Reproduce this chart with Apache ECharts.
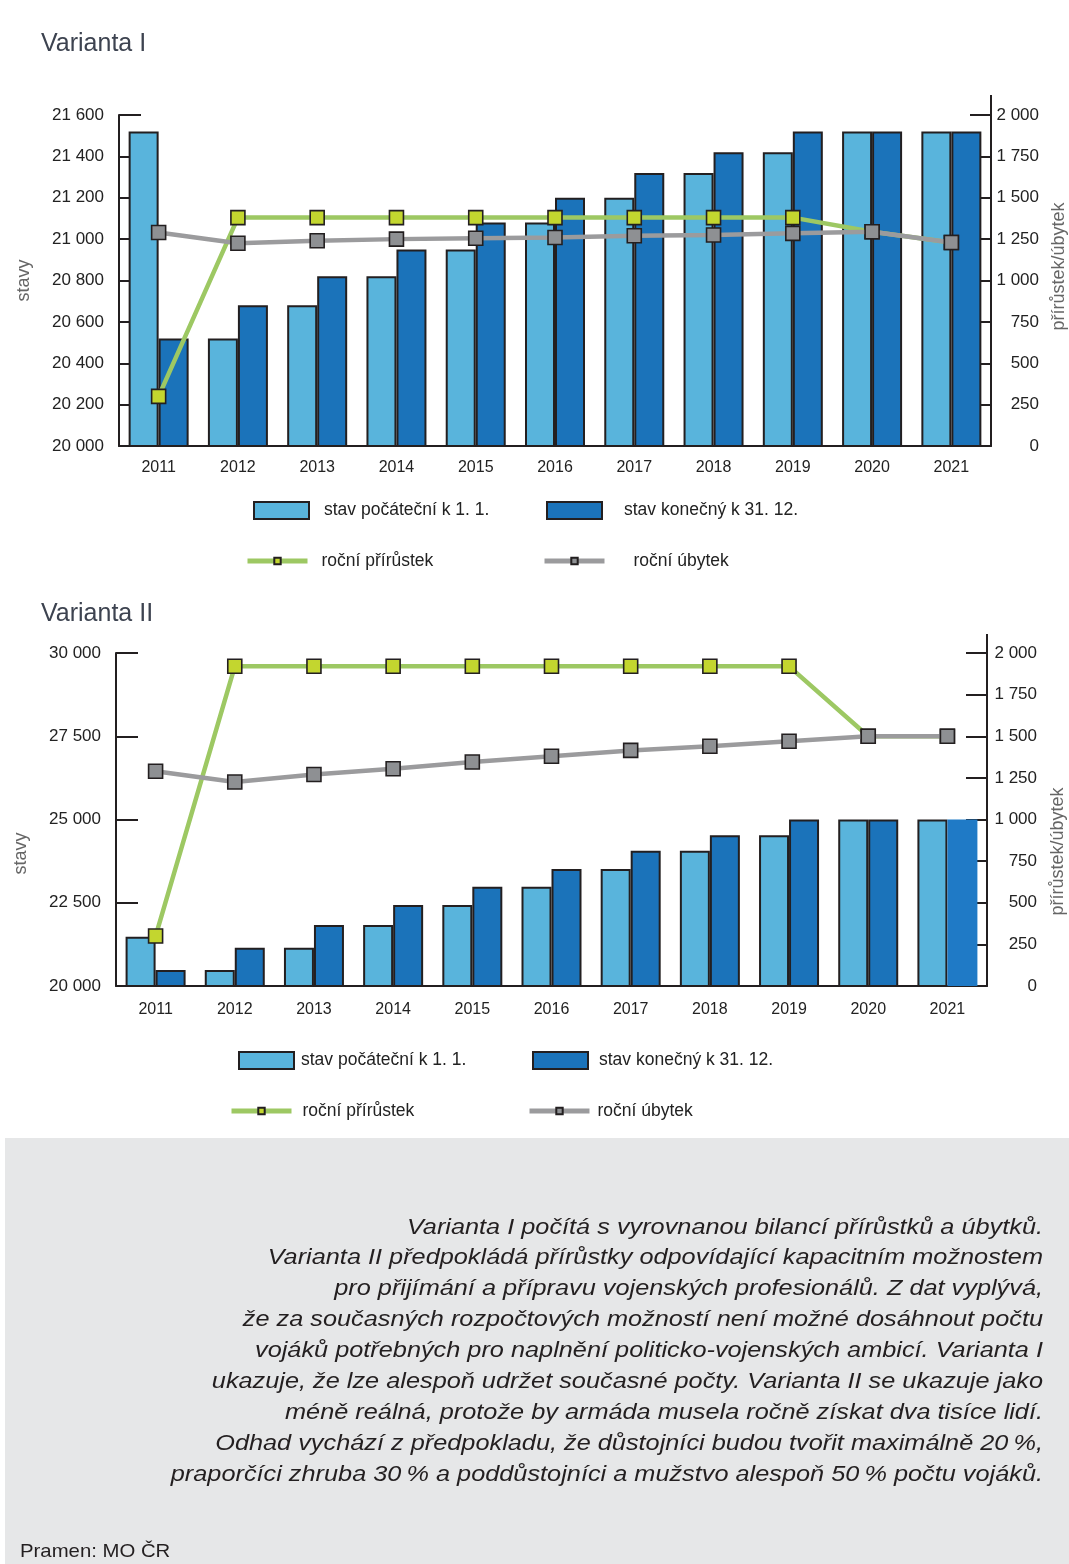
<!DOCTYPE html>
<html lang="cs">
<head>
<meta charset="utf-8">
<title>Varianta I a II – stavy vojáků</title>
<script src="https://cdn.jsdelivr.net/npm/echarts@6/dist/echarts.min.js"></script>
<style>
  html, body { margin: 0; padding: 0; background: #fff; overflow: hidden; }
  #main { width: 1069px; height: 1564px; }
</style>
</head>
<body>
<div id="main"></div>
<script>
// Categories (years)
const years = ['2011', '2012', '2013', '2014', '2015', '2016', '2017', '2018', '2019', '2020', '2021'];

// Varianta I – stavy (left axis) and roční přírůstek / úbytek (right axis)
const v1Start = [21520, 20520, 20680, 20820, 20950, 21080, 21200, 21320, 21420, 21520, 21520];
const v1End   = [20520, 20680, 20820, 20950, 21080, 21200, 21320, 21420, 21520, 21520, 21520];
const v1Gain  = [300, 1380, 1380, 1380, 1380, 1380, 1380, 1380, 1380, 1295, 1230];
const v1Loss  = [1290, 1225, 1240, 1250, 1255, 1260, 1270, 1275, 1285, 1295, 1230];

// Varianta II
const v2Start = [21480, 20480, 21150, 21830, 22430, 22980, 23510, 24060, 24530, 25000, 25000];
const v2End   = [20480, 21150, 21830, 22430, 22980, 23510, 24060, 24530, 25000, 25000, 25000];
const v2Gain  = [300, 1920, 1920, 1920, 1920, 1920, 1920, 1920, 1920, 1500, 1500];
const v2Loss  = [1290, 1225, 1270, 1305, 1345, 1380, 1415, 1440, 1470, 1500, 1500];

// Axis ranges
const v1Left  = { min: 20000, max: 21600, interval: 200 };
const v2Left  = { min: 20000, max: 30000, interval: 2500 };
const rightAx = { min: 0, max: 2000, interval: 250 };

// Series / legend names
const nStart = 'stav počáteční k 1. 1.';
const nEnd   = 'stav konečný k 31. 12.';
const nGain  = 'roční přírůstek';
const nLoss  = 'roční úbytek';

const noteLines = [
  'Varianta I počítá s vyrovnanou bilancí přírůstků a úbytků.',
  'Varianta II předpokládá přírůstky odpovídající kapacitním možnostem',
  'pro přijímání a přípravu vojenských profesionálů. Z dat vyplývá,',
  'že za současných rozpočtových možností není možné dosáhnout počtu',
  'vojáků potřebných pro naplnění politicko-vojenských ambicí. Varianta I',
  'ukazuje, že lze alespoň udržet současné počty. Varianta II se ukazuje jako',
  'méně reálná, protože by armáda musela ročně získat dva tisíce lidí.',
  'Odhad vychází z předpokladu, že důstojníci budou tvořit maximálně 20\u2009%,',
  'praporčíci zhruba 30\u2009% a poddůstojníci a mužstvo alespoň 50\u2009% počtu vojáků.'
];

const FONT = "'Liberation Sans', Arial, sans-serif";
const INK = '#231f20';
const C_LIGHT = '#59b4dc';
const C_DARK = '#1b73ba';
const C_GREEN = '#9dc863';
const C_GREEN_M = '#c3d62f';
const C_GREY = '#9b9b9d';
const C_GREY_M = '#8e9093';

// thousands separated by a space: 21 600, 2 000
const fmt = v => String(v).replace(/\B(?=(\d{3})+(?!\d))/g, ' ');

function xAxisDef(gridIndex, margin) {
  return {
    type: 'category', gridIndex, data: years, boundaryGap: true,
    axisLine: { lineStyle: { color: INK, width: 2 } },
    axisTick: { inside: true, length: 9, lineStyle: { color: INK, width: 2 } },
    axisLabel: { color: '#222', fontFamily: FONT, fontSize: 16, margin }
  };
}
function leftAxisDef(gridIndex, range, nameGap, namePad) {
  return {
    type: 'value', gridIndex, position: 'left', ...range,
    name: 'stavy', nameLocation: 'middle', nameRotate: 90, nameGap,
    nameTextStyle: { color: '#666', fontFamily: FONT, fontSize: 18, padding: namePad },
    splitLine: { show: false },
    axisLine: { show: true, lineStyle: { color: INK, width: 2 } },
    axisTick: { show: true, inside: true, length: 22, lineStyle: { color: INK, width: 2 } },
    axisLabel: { color: '#222', fontFamily: FONT, fontSize: 17, margin: 15, formatter: fmt }
  };
}
function rightAxisDef(gridIndex, nameGap, namePad, labelMargin) {
  return {
    type: 'value', gridIndex, position: 'right', ...rightAx,
    name: 'přírůstek/úbytek', nameLocation: 'middle', nameRotate: 90, nameGap,
    nameTextStyle: { color: '#666', fontFamily: FONT, fontSize: 18, padding: namePad },
    splitLine: { show: false },
    axisLine: { show: true, lineStyle: { color: INK, width: 2 } },
    axisTick: { show: true, inside: true, length: 21, lineStyle: { color: INK, width: 2 } },
    axisLabel: { color: '#222', fontFamily: FONT, fontSize: 17, margin: labelMargin, align: 'right', formatter: fmt }
  };
}

function barSeries(name, data, color, xi, yi, lastPlain) {
  return {
    name, type: 'bar', xAxisIndex: xi, yAxisIndex: yi, barWidth: 30, barGap: '0%', z: 2,
    itemStyle: { color, borderColor: INK, borderWidth: 2 },
    data: data.map((v, i) => (lastPlain && i === data.length - 1)
      ? { value: v, itemStyle: { borderWidth: 0, color: '#1f7ac6' } } : v)
  };
}
function lineSeries(name, data, color, mark, xi, yi, z) {
  return {
    name, type: 'line', xAxisIndex: xi, yAxisIndex: yi, data, z,
    symbol: 'rect', symbolSize: 14, showAllSymbol: true,
    lineStyle: { color, width: 4.5 },
    itemStyle: { color: mark, borderColor: INK, borderWidth: 1.6 },
    emphasis: { disabled: true }
  };
}

function legendItem(name, left, top, isBar, gap) {
  return {
    data: [name], left, top, padding: 0, orient: 'horizontal', selectedMode: false,
    icon: isBar ? 'rect' : undefined,
    itemWidth: isBar ? 55 : 60, itemHeight: isBar ? 17 : 8,
    lineStyle: isBar ? undefined : { width: 5 },
    textStyle: { color: '#222', fontFamily: FONT, fontSize: 17.5, padding: [0, 0, 0, gap] }
  };
}

const chart = echarts.init(document.getElementById('main'));

const option = {
  backgroundColor: '#fff',
  animation: false,
  title: [
    { text: 'Varianta I', left: 36, top: 27, textStyle: { color: '#3d4350', fontFamily: FONT, fontSize: 25, fontWeight: 'normal' } },
    { text: 'Varianta II', left: 36, top: 597, textStyle: { color: '#3d4350', fontFamily: FONT, fontSize: 25, fontWeight: 'normal' } }
  ],
  grid: [
    { left: 119, right: 78, top: 115, height: 331, outerBoundsMode: 'none', containLabel: false },
    { left: 116, right: 82, top: 653, height: 333, outerBoundsMode: 'none', containLabel: false }
  ],
  xAxis: [xAxisDef(0, 14), xAxisDef(1, 16)],
  yAxis: [
    leftAxisDef(0, v1Left, 86, [0, 0, 0, 0]),
    rightAxisDef(0, 58, [0, 0, 0, 28], 48),
    leftAxisDef(1, v2Left, 86, [0, 68, 0, 0]),
    rightAxisDef(1, 62, [0, 64, 0, 0], 50)
  ],
  legend: [
    legendItem(nStart, 253, 501, true, 10),
    legendItem(nEnd, 546, 501, true, 17),
    legendItem(nGain, 245, 552, false, 9),
    legendItem(nLoss, 542, 552, false, 24),
    legendItem(nStart, 238, 1051, true, 2),
    legendItem(nEnd, 532, 1051, true, 6),
    legendItem(nGain, 229, 1102, false, 6),
    legendItem(nLoss, 527, 1102, false, 3)
  ],
  series: [
    barSeries(nStart, v1Start, C_LIGHT, 0, 0, false),
    barSeries(nEnd, v1End, C_DARK, 0, 0, false),
    lineSeries(nGain, v1Gain, C_GREEN, C_GREEN_M, 0, 1, 4),
    lineSeries(nLoss, v1Loss, C_GREY, C_GREY_M, 0, 1, 5),
    barSeries(nStart, v2Start, C_LIGHT, 1, 2, false),
    barSeries(nEnd, v2End, C_DARK, 1, 2, true),
    lineSeries(nGain, v2Gain, C_GREEN, C_GREEN_M, 1, 3, 4),
    lineSeries(nLoss, v2Loss, C_GREY, C_GREY_M, 1, 3, 5)
  ]
};
chart.setOption(option);

// right axis lines run a little above their top tick
function axisTopExtension(xIdx, yIdx, top) {
  const x0 = chart.convertToPixel({ xAxisIndex: xIdx }, years[years.length - 2]);
  const x1 = chart.convertToPixel({ xAxisIndex: xIdx }, years[years.length - 1]);
  const x = x1 + (x1 - x0) / 2;
  const y = chart.convertToPixel({ yAxisIndex: yIdx }, rightAx.max);
  return { type: 'line', shape: { x1: x, y1: y, x2: x, y2: y - top }, style: { stroke: INK, lineWidth: 2 }, z: 10 };
}

// grey note panel below the charts
chart.setOption({
  graphic: [
    axisTopExtension(0, 1, 20),
    axisTopExtension(1, 3, 19),
    { type: 'rect', x: 5, y: 1138, shape: { width: 1064, height: 426 }, style: { fill: '#e6e7e8' }, z: 0 },
    {
      type: 'text', x: 1043, y: 1212, scaleX: 1.15, z: 1,
      style: {
        x: 0, y: 0, text: noteLines.join('\n'), align: 'right', verticalAlign: 'top', lineHeight: 30.9,
        fill: '#231f20', font: "italic 22px 'Liberation Sans', Arial, sans-serif"
      }
    },
    {
      type: 'text', x: 20, y: 1552, scaleX: 1.07, z: 1,
      style: { x: 0, y: 0, text: 'Pramen: MO ČR', verticalAlign: 'middle', fill: '#231f20', font: "19px 'Liberation Sans', Arial, sans-serif" }
    }
  ]
});
</script>
</body>
</html>
